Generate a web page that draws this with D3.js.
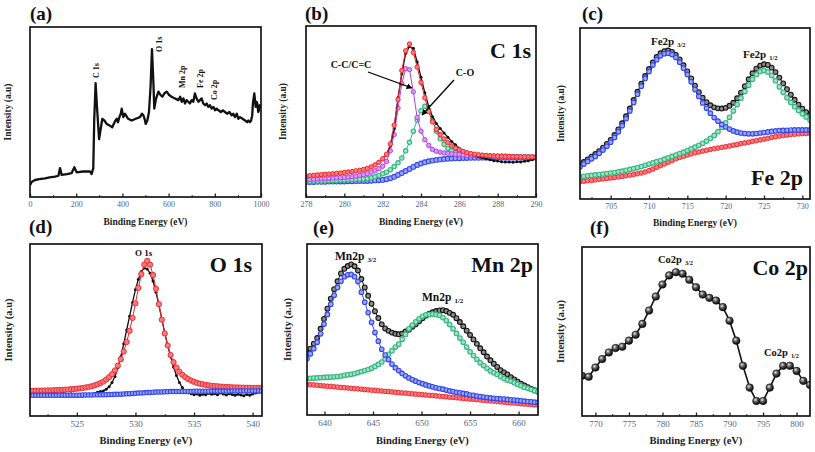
<!DOCTYPE html>
<html><head><meta charset="utf-8">
<script src="https://cdn.jsdelivr.net/npm/d3@7"></script>
<style>body{margin:0;background:#fff}svg{display:block}
svg text{font-family:"Liberation Serif","Times New Roman",Times,"DejaVu Serif","Noto Serif",serif !important;}</style>
</head><body><svg id="c" width="815" height="452"></svg>
<script>
// ---------- (a) survey ----------
const surveyE = [0,8,22,40,65,85,108,123,130,137,160,180,192,202,230,260,267,274,278,284,290,299,306,313,322,332,345,356,366,375,381,387,393,397,404,411,425,440,458,476,485,491,496,501,508,515,522,528,534,538,546,556,565,573,582,592,602,613,627,642,650,657,664,671,678,685,692,700,707,714,721,729,736,743,750,758,765,772,779,786,794,801,808,816,826,835,844,853,863,873,880,887,895,902,909,920,931,940,945,952,957,962,965,968,971,974,977,981,984,988,991,995,1000];
const surveyI = [7,9,10,10.5,11,11.5,12,12.5,17,13,13.5,14,17.5,14.5,15,15,13.5,17,45,67,53,34,40,46,45,43,42,41,44,46,44,47,49,52,47,49,46,45,46,47,49,48,46,43,45,50,65,87,68,52,58,62,60,59,61,62,60,59,58,57,59,56,58,55,57,56,55,57,56,61,58,56,57,58,55,54,55,53,54,52,53,51,52,51,50,51,50,49,50,48,49,47,49,46,47,46,45,44,45,44,45,48,55,58,61,57,53,56,55,50,51,54,52];
const surveyPeaks = ["C 1s","O 1s","Mn 2p","Fe 2p","Co 2p"];

// ---------- (b) C 1s : grid 278 + 0.2 i ----------
const c1sStart = 278, c1sStep = 0.2;
const c1sRaw = [12.0,12.6,12.5,13.0,12.9,13.4,13.2,13.7,13.9,13.8, 14.5,14.4,15.0,15.1,15.8,16.0,16.9,17.4,19.0,20.0, 22.8,24.5,30.0,40.0,58.0,72.0,84.0,88.0,87.0,79.0, 70.0,61.0,53.0,47.0,43.0,40.0,37.5,35.0,32.5,30.5, 28.5,27.0,26.0,25.0,24.2,23.6,23.0,22.4,21.8,21.2, 21.0,20.6,20.4,20.5,20.3,20.6,20.5,20.9,21.2,21.8,22.4];
const c1sFit = [12.3,12.5,12.7,12.9,13.1,13.3,13.4,13.6,13.8,14.0, 14.3,14.6,14.9,15.3,15.6,16.1,16.7,17.6,18.8,20.3, 22.3,25.0,31.0,42.0,57.0,74.0,85.5,89.5,84.5,76.0, 67.0,58.0,50.0,44.0,39.5,36.5,34.0,31.8,29.9,28.6, 27.6,26.7,25.9,25.4,25.0,24.7,24.5,24.3,24.1,24.0, 23.9,23.8,23.7,23.7,23.6,23.6,23.5,23.5,23.4,23.4,23.4];
const c1sCC = [10.1,10.2,10.4,10.5,10.6,10.8,10.9,11.1,11.2,11.4, 11.5,11.7,11.9,12.2,12.6,13.1,13.7,14.5,15.3,16.5, 18.0,20.8,27.0,36.5,52.0,66.3,75.0,74.5,61.5,46.5, 38.5,33.5,30.2,27.8,26.8,26.2,25.8,25.5,25.2,25.0, 24.8,24.6,24.4,24.3,24.2,24.1,24.0,24.0,23.9,23.9, 23.8,23.8,23.7,23.7,23.6,23.6,23.5,23.5,23.4,23.4,23.4];
const c1sCO = [9.2,9.2,9.3,9.3,9.4,9.5,9.6,9.7,9.8,9.9, 10.0,10.1,10.2,10.4,10.5,10.6,10.8,11.2,11.8,12.6, 13.6,14.5,16.0,17.8,20.0,22.8,27.0,32.0,38.5,45.0, 50.5,53.0,50.7,45.0,38.5,34.0,30.8,28.4,27.0,26.0, 25.4,25.0,24.7,24.5,24.4,24.2,24.1,24.0,24.0,23.9, 23.9,23.8,23.8,23.7,23.7,23.6,23.6,23.5,23.5,23.4,23.4];
const c1sBg = [8.8,8.8,8.8,8.9,8.9,8.9,9.0,9.0,9.0,9.1, 9.1,9.2,9.2,9.3,9.3,9.4,9.4,9.5,9.7,9.8, 10.0,10.4,11.0,11.8,12.9,14.0,15.2,16.4,17.6,18.7, 19.6,20.3,20.9,21.3,21.7,22.0,22.2,22.4,22.5,22.6, 22.7,22.8,22.8,22.9,22.9,22.9,23.0,23.0,23.0,23.0, 23.0,23.0,23.0,23.0,23.0,23.0,23.0,23.0,23.0,23.0,23.0];

// ---------- (c) Fe 2p : grid 701 + 0.5 i ----------
const feStart = 701, feStep = 0.5;
const feRaw = [20.0,21.6,23.2,24.8,26.3,28.0,30.0,32.2,34.6,37.4, 40.7,44.3,48.4,52.9,57.9,62.7,67.4,71.9,76.0,79.8, 83.0,85.2,86.5,86.8,86.0,84.3,81.6,78.2,74.6,70.5, 66.3,62.5,59.2,56.6,54.8,53.6,53.0,52.9,53.3,54.5, 56.3,58.9,62.2,66.0,70.0,73.5,76.2,78.0,78.8,78.4, 76.8,74.2,71.0,67.6,64.2,61.0,58.0,55.2,52.8,50.8,49.1];
const fe32 = [18.9,20.4,22.0,23.5,24.9,26.7,28.6,30.8,33.2,36.0, 39.3,42.9,47.0,51.5,56.5,61.3,66.0,70.5,74.5,78.3, 81.5,83.7,85.0,85.3,84.5,82.8,80.0,76.5,72.8,68.5, 64.0,60.0,56.2,53.0,50.2,47.6,45.5,43.6,42.1,40.9, 39.8,39.1,38.6,38.3,38.1,38.1,38.3,38.6,38.9,39.2, 39.5,39.8,40.0,40.1,40.2,40.3,40.4,40.4,40.4,40.4,40.4];
const fe12 = [13.1,13.3,13.6,13.8,14.1,14.3,14.6,14.9,15.2,15.5, 15.9,16.3,16.8,17.3,17.8,18.4,19.0,19.7,20.4,21.1, 21.8,22.5,23.3,24.1,24.9,25.7,26.6,27.4,28.3,29.3, 30.3,31.4,32.6,33.9,35.4,37.2,39.4,42.0,44.6,47.8, 51.4,55.2,59.0,62.8,66.5,70.0,72.8,74.6,75.2,74.3, 72.2,69.2,65.6,62.4,59.2,56.5,54.0,51.8,49.8,48.0,46.2];
const feBg = [10.1,10.4,10.7,10.9,11.2,11.5,11.8,12.0,12.3,12.6, 12.9,13.2,13.6,14.0,14.4,14.8,15.2,15.8,16.6,17.5, 18.5,19.5,20.5,21.5,22.5,23.5,24.3,25.0,25.7,26.4, 27.0,27.5,28.0,28.5,29.0,29.4,29.8,30.2,30.6,31.0, 31.5,31.9,32.4,32.8,33.2,33.7,34.1,34.6,35.0,35.5, 36.0,36.4,36.8,37.1,37.4,37.7,37.9,38.1,38.2,38.3,38.4];

// ---------- (d) O 1s : grid 521 + 0.25 i ----------
const o1sStart = 521, o1sStep = 0.25;
const o1sRaw = [13.0,13.5,12.8,13.6,13.9,13.2,12.5,13.4, 14.0,13.1,12.6,13.5,12.8,12.2,13.0,12.4, 11.8,12.6,11.5,11.9,12.8,12.2,13.0,13.8, 14.3,14.6,15.5,17.0,19.5,23.0,28.0,34.5, 42.0,50.0,58.0,66.0,73.5,79.5,84.0,86.0, 85.5,83.0,78.5,72.0,64.5,56.5,48.5,41.0, 34.5,28.5,23.5,19.5,16.5,14.5,13.5,13.0, 12.4,12.8,12.1,12.7,12.3,13.2,12.6,13.0, 12.4,13.3,12.8,12.2,13.0,12.5,12.0,12.7, 12.2,11.8,12.5,12.0,12.8,13.3,13.8,14.2, 14.0];
const o1sFit = [14.6,14.6,14.7,14.7,14.8,14.8,14.9,14.9, 15.0,15.1,15.2,15.2,15.3,15.4,15.6,15.7, 15.9,16.1,16.3,16.6,16.9,17.3,17.8,18.4, 19.1,20.0,21.2,22.6,24.3,26.5,29.3,33.0, 37.5,43.0,49.5,57.0,65.5,74.5,82.5,88.0, 90.2,88.0,82.0,74.0,65.0,56.0,48.0,41.0, 35.5,31.3,28.2,25.8,24.0,22.6,21.5,20.6, 19.9,19.3,18.8,18.4,18.1,17.8,17.6,17.4, 17.3,17.1,17.0,16.9,16.8,16.7,16.6,16.6, 16.5,16.5,16.4,16.4,16.3,16.3,16.3,16.3, 16.3];
const o1sBg = [12.0,12.0,12.0,12.0,12.0,12.0,12.0,12.0, 12.0,12.0,12.1,12.1,12.1,12.1,12.1,12.1, 12.1,12.1,12.2,12.2,12.2,12.2,12.3,12.3, 12.3,12.4,12.4,12.5,12.5,12.6,12.6,12.7, 12.8,12.9,13.0,13.1,13.2,13.3,13.4,13.5, 13.6,13.7,13.8,13.9,14.0,14.0,14.1,14.1, 14.2,14.2,14.2,14.3,14.3,14.3,14.3,14.3, 14.4,14.4,14.4,14.4,14.4,14.4,14.5,14.5, 14.5,14.5,14.5,14.5,14.5,14.6,14.6,14.6, 14.6,14.6,14.6,14.6,14.6,14.6,14.6,14.6, 14.6];

// ---------- (e) Mn 2p : grid 638.2 + 0.35 i ----------
const mnStart = 638.2, mnStep = 0.35;
const mnRaw = [36.1,38.8,41.7,45.0,50.4,56.2,62.2,68.0,73.6,78.2, 82.8,85.5,87.1,88.1,87.0,84.5,79.5,74.6,69.7,65.1, 60.7,56.7,53.0,50.6,49.2,48.2,47.5,47.2,47.6,48.8, 49.9,51.6,53.1,54.8,56.6,58.1,59.3,60.1,60.8,61.2, 61.3,60.8,59.7,58.6,56.6,54.4,51.9,49.3,46.8,44.2, 41.6,39.0,36.7,34.2,32.0,30.0,28.1,26.2,24.9,23.7, 22.1,20.8,19.5,18.3,17.3,16.3,15.3,14.5,13.6];
const mn32 = [33.1,35.8,38.8,42.6,47.5,53.2,58.8,64.7,70.0,74.6, 78.2,80.9,82.0,82.2,80.9,78.0,71.8,66.0,59.9,54.2, 48.2,43.2,38.4,35.1,32.4,29.8,27.7,26.0,24.3,22.9, 21.7,20.7,19.8,19.0,18.3,17.6,17.0,16.5,15.9,15.5, 15.1,14.6,14.1,13.7,13.3,13.0,12.6,12.3,11.7,11.5, 11.1,10.8,10.5,10.2,10.0,9.8,9.6,9.4,9.3,9.1, 8.9,8.7,8.5,8.3,8.1,7.9,7.7,7.5,7.4];
const mn12 = [21.4,21.5,21.6,21.7,21.9,22.0,22.1,22.2,22.3,22.5, 22.8,23.2,23.5,23.8,24.2,24.8,25.4,26.0,26.6,27.4, 28.4,29.6,31.0,32.8,35.5,37.6,39.7,41.4,44.3,47.1, 50.4,52.6,54.5,56.3,57.7,58.6,58.9,59.0,58.8,58.4, 57.0,55.2,52.9,50.4,47.7,45.0,42.5,39.7,37.0,34.8, 32.6,30.5,28.9,27.3,25.8,24.7,23.7,22.5,21.3,20.4, 19.8,18.9,18.0,17.1,16.3,15.6,14.9,14.2,13.6];
const mnBg = [17.9,17.7,17.6,17.4,17.2,17.0,16.8,16.7,16.5,16.3, 16.1,16.0,15.8,15.6,15.4,15.3,15.1,14.9,14.7,14.5, 14.4,14.2,14.0,13.8,13.7,13.5,13.3,13.1,12.9,12.8, 12.6,12.4,12.2,12.1,11.9,11.7,11.5,11.4,11.2,11.0, 10.8,10.6,10.4,10.3,10.1,9.9,9.7,9.5,9.3,9.2, 9.0,8.8,8.6,8.4,8.2,8.1,7.9,7.7,7.5,7.3, 7.1,7.0,6.8,6.6,6.4,6.3,6.1,5.9,5.8];

// ---------- (f) Co 2p ----------
const coE = [768,769,770,771,772,773,774,775,776,777,778,779,780,781,782,783,784,785,786,787,788,789,790,791,792,793,794,795,796,797,798,799,800,801,802];
const coI = [23.8,23.2,28.7,33.7,37.6,40.2,41.0,44.6,48.1,54.5,62.4,70.7,77.8,83.2,85.1,84.2,80.6,76.2,71.9,69.9,68.3,64.4,56.4,44.6,29.7,16.8,8.9,8.9,16.8,25.1,29.7,29.7,26.7,20.8,18.4];

// ---------- tick labels ----------
const ticksA = [0,200,400,600,800,1000];
const ticksB = [278,280,282,284,286,288,290];
const ticksC = [705,710,715,720,725,730];
const ticksD = [525,530,535,540];
const ticksE = [640,645,650,655,660];
const ticksF = [770,775,780,785,790,795,800];

const SERIF = '"Liberation Serif","Times New Roman",Times,"DejaVu Serif","Noto Serif",serif';
const svg = d3.select('#c');
const defs = svg.append('defs');
const grad = defs.append('radialGradient').attr('id','ball').attr('cx','38%').attr('cy','35%').attr('r','65%');
grad.append('stop').attr('offset','0%').attr('stop-color','#e8e8e8');
grad.append('stop').attr('offset','45%').attr('stop-color','#555');
grad.append('stop').attr('offset','100%').attr('stop-color','#050505');
defs.append('marker').attr('id','arr').attr('viewBox','0 0 10 10').attr('refX',9).attr('refY',5)
  .attr('markerWidth',6).attr('markerHeight',6).attr('orient','auto').attr('markerUnits','userSpaceOnUse')
  .append('path').attr('d','M0,0L10,5L0,10z').attr('fill','#000');

const grid = (start, step, n) => d3.range(n).map(i => +(start + step * i).toFixed(3));

function txt(sel, size, bold) {
  return sel.style('font-family', SERIF).style('font-size', size + 'px').style('font-weight', bold ? 'bold' : 'normal');
}

function makePanel(cfg) {
  const [x0, x1, y0, y1] = cfg.box;
  const x = d3.scaleLinear().domain(cfg.xDomain).range([x0, x1]);
  const y = d3.scaleLinear().domain([0, 100]).range([y1, y0]);
  const id = 'clip' + cfg.key;
  defs.append('clipPath').attr('id', id).append('rect')
    .attr('x', x0).attr('y', y0).attr('width', x1 - x0).attr('height', y1 - y0);
  const plot = svg.append('g').attr('clip-path', `url(#${id})`);
  const top = svg.append('g');
  top.append('g').attr('transform', `translate(0,${y1})`)
    .call(d3.axisBottom(x).tickValues(cfg.minor).tickSize(-2).tickFormat(''))
    .call(g => g.select('.domain').remove())
    .call(g => g.selectAll('line').attr('stroke', '#333').attr('stroke-width', 1));
  top.append('g').attr('transform', `translate(0,${y1})`)
    .call(d3.axisBottom(x).tickValues(cfg.major).tickSize(-3.5).tickPadding(cfg.tickPad).tickFormat(d3.format('d')))
    .call(g => g.select('.domain').remove())
    .call(g => g.selectAll('line').attr('stroke', '#222').attr('stroke-width', 1.3))
    .call(g => txt(g.selectAll('text'), cfg.tickFont, false).attr('fill', '#56667c'));
  top.append('rect').attr('x', x0).attr('y', y0).attr('width', x1 - x0).attr('height', y1 - y0)
    .attr('fill', 'none').attr('stroke', '#161616').attr('stroke-width', 1.7);
  txt(top.append('text'), cfg.titleFont, true).attr('x', (x0 + x1) / 2).attr('y', cfg.xTitleY)
    .attr('text-anchor', 'middle').attr('fill', '#222').text('Binding Energy (eV)');
  txt(top.append('text'), cfg.titleFont, true).attr('transform', `translate(${cfg.yTitleX},${(y0 + y1) / 2}) rotate(-90)`)
    .attr('text-anchor', 'middle').attr('dy', '0.35em').attr('fill', '#222').text('Intensity (a.u)');
  txt(top.append('text'), 19, true).attr('x', cfg.letter[1]).attr('y', cfg.letter[2]).attr('fill', '#111').text(cfg.letter[0]);
  if (cfg.big) {
    txt(top.append('text'), 22, true).attr('x', cfg.big[1]).attr('y', cfg.big[2]).attr('text-anchor', 'end')
      .attr('fill', '#111').text(cfg.big[0]);
  }
  return { x, y, plot, top };
}

function series(P, xs, ys, st) {
  const pts = xs.map((e, i) => ({ e, v: ys[i] }));
  if (st.line) {
    P.plot.append('path').datum(pts).attr('fill', 'none').attr('stroke', st.line)
      .attr('stroke-width', st.lw || 1).attr('stroke-linejoin', 'round')
      .attr('d', d3.line().x(d => P.x(d.e)).y(d => P.y(d.v)));
  }
  if (st.r) {
    P.plot.append('g').selectAll('circle').data(pts).join('circle')
      .attr('cx', d => P.x(d.e)).attr('cy', d => P.y(d.v)).attr('r', st.r)
      .attr('fill', st.fill).attr('stroke', st.stroke || 'none').attr('stroke-width', st.sw || 1);
  }
}

function peakLabel(P, main, sub, x, yb, fs) {
  const t = txt(P.top.append('text'), fs, true).attr('x', x).attr('y', yb).attr('fill', '#111');
  t.append('tspan').text(main);
  if (sub) t.append('tspan').attr('dx', 3).attr('dy', 2).style('font-size', (fs * 0.6) + 'px').text(sub);
}

const RED = { line: '#e8222e', lw: 1, r: 2.3, fill: '#ff7a7a', stroke: '#ee2a33', sw: 1 };
const BLUE = { line: '#3346e6', lw: 1, r: 2.3, fill: '#9aa6ff', stroke: '#3447e8', sw: 1.1 };
const GREEN = { line: '#2fb07c', lw: 1, r: 2.3, fill: '#9fe3c2', stroke: '#36b583', sw: 1.1 };
const PURPLE = { line: '#b23fe0', lw: 1, r: 2.2, fill: '#d898f2', stroke: '#b444e2', sw: 1 };
const BLACKRING = { line: '#111', lw: 1, r: 2.4, fill: '#8a8a8a', stroke: '#111', sw: 1.1 };
const BLACKDOT = { line: '#111', lw: 1.3, r: 1.5, fill: '#111', stroke: 'none' };

// ===== (a) =====
const A = makePanel({ key: 'a', box: [30, 261, 27, 197], xDomain: [0, 1000], major: ticksA, minor: d3.range(100, 1000, 200),
  tickPad: 4, tickFont: 8, titleFont: 9.5, xTitleY: 225, yTitleX: 8, letter: ['(a)', 30, 20] });
series(A, surveyE, surveyI, { line: '#111', lw: 2.3 });
const peakPos = [[96, 78], [159, 52], [182, 88], [200, 88], [214, 100]];
surveyPeaks.forEach((t, i) => {
  txt(A.top.append('text'), 8, true).attr('transform', `translate(${peakPos[i][0]},${peakPos[i][1]}) rotate(-90)`)
    .attr('dy', '0.35em').attr('fill', '#111').text(t);
});

// ===== (b) =====
const B = makePanel({ key: 'b', box: [306, 536, 26, 197], xDomain: [278, 290], major: ticksB, minor: d3.range(279, 290, 2),
  tickPad: 4, tickFont: 8, titleFont: 9.5, xTitleY: 225, yTitleX: 283, letter: ['(b)', 305, 20], big: ['C 1s', 531, 58] });
const eB = grid(c1sStart, c1sStep, c1sFit.length);
series(B, eB, c1sBg, Object.assign({}, BLUE, { r: 2.4 }));
series(B, eB, c1sCO, Object.assign({}, GREEN, { r: 2.2 }));
series(B, eB, c1sCC, PURPLE);
series(B, eB, c1sRaw, BLACKDOT);
series(B, eB, c1sFit, Object.assign({}, RED, { r: 2.2 }));
txt(B.top.append('text'), 10, true).attr('x', 351).attr('y', 68).attr('text-anchor', 'middle').attr('fill', '#111').text('C-C/C=C');
txt(B.top.append('text'), 10, true).attr('x', 465).attr('y', 76).attr('text-anchor', 'middle').attr('fill', '#111').text('C-O');
B.top.append('line').attr('x1', 368).attr('y1', 72).attr('x2', 412).attr('y2', 88)
  .attr('stroke', '#000').attr('stroke-width', 1.3).attr('marker-end', 'url(#arr)');
B.top.append('line').attr('x1', 454).attr('y1', 80).attr('x2', 422).attr('y2', 115)
  .attr('stroke', '#000').attr('stroke-width', 1.3).attr('marker-end', 'url(#arr)');

// ===== (c) =====
const C = makePanel({ key: 'c', box: [580, 810, 28, 199], xDomain: [701, 731], major: ticksC, minor: d3.range(702.5, 731, 5),
  tickPad: 4, tickFont: 8, titleFont: 9.5, xTitleY: 226, yTitleX: 561, letter: ['(c)', 582, 20], big: ['Fe 2p', 803, 185] });
const eC = grid(feStart, feStep, feRaw.length);
series(C, eC, feRaw, BLACKRING);
series(C, eC, feBg, RED);
series(C, eC, fe12, GREEN);
series(C, eC, fe32, BLUE);
peakLabel(C, 'Fe2p', '3/2', 651, 45, 11);
peakLabel(C, 'Fe2p', '1/2', 743, 58, 11);

// ===== (d) =====
const D = makePanel({ key: 'd', box: [30, 262, 244, 416], xDomain: [521, 540.8], major: ticksD, minor: d3.range(522.5, 541, 5),
  tickPad: 4.5, tickFont: 9, titleFont: 10.5, xTitleY: 444, yTitleX: 8, letter: ['(d)', 29, 233], big: ['O 1s', 252, 272] });
const eD = grid(o1sStart, o1sStep, o1sFit.length);
series(D, eD, o1sRaw, BLACKDOT);
series(D, eD, o1sFit, Object.assign({}, RED, { r: 2.6 }));
series(D, eD, o1sBg, Object.assign({}, BLUE, { r: 2.2 }));
peakLabel(D, 'O 1s', null, 135, 256, 9);

// ===== (e) =====
const E = makePanel({ key: 'e', box: [307, 538, 244, 415], xDomain: [638.2, 662], major: ticksE, minor: d3.range(642.5, 662, 5),
  tickPad: 4.5, tickFont: 9, titleFont: 10.5, xTitleY: 444, yTitleX: 287, letter: ['(e)', 313, 234], big: ['Mn 2p', 533, 272] });
const eE = grid(mnStart, mnStep, mnRaw.length);
series(E, eE, mnRaw, BLACKRING);
series(E, eE, mnBg, RED);
series(E, eE, mn12, GREEN);
series(E, eE, mn32, BLUE);
peakLabel(E, 'Mn2p', '3/2', 335, 260, 11.5);
peakLabel(E, 'Mn2p', '1/2', 422, 301, 11.5);

// ===== (f) =====
const F = makePanel({ key: 'f', box: [582, 810, 247, 416], xDomain: [768, 802], major: ticksF, minor: d3.range(772.5, 802, 5),
  tickPad: 4.5, tickFont: 9, titleFont: 10.5, xTitleY: 444, yTitleX: 560, letter: ['(f)', 590, 234], big: ['Co 2p', 808, 275] });
series(F, coE, coI, { line: '#111', lw: 1.6, r: 3.8, fill: 'url(#ball)', stroke: '#000', sw: 0.5 });
peakLabel(F, 'Co2p', '3/2', 658, 263, 10.5);
peakLabel(F, 'Co2p', '1/2', 764, 356, 10.5);
</script>
</body></html>
